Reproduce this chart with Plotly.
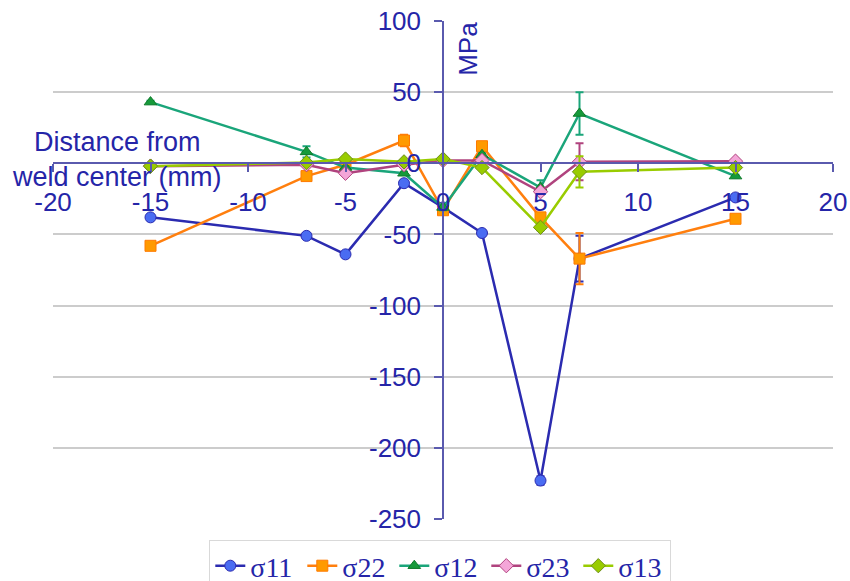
import plotly.graph_objects as go

x_mm = [-15, -7, -5, -2, 0, 2, 5, 7, 15]

s11 = [-38, -51, -64, -14, -31, -49, -223, -67, -24]
s22 = [-58, -9, -1, 16, -33, 12, -38, -67, -39]
s12 = [43, 8, -3, -7, -31, 6, -17, 35, -9]
s23 = [-2, -1, -7, -1, 2, 2, -20, 1, 1.5]
s13 = [-2, 0.5, 3, 1, 3, -3, -45, -6, -3]

e11 = [1, 2, 1, 2, 2, 1, 3, 16, 2]
e22 = [1, 2, 1, 4, 2, 2, 2, 18, 2]
e12 = [1, 4, 1, 1, 2, 1, 5, 15, 1]
e23 = [1, 1, 1, 1, 1, 1, 2, 13, 1]
e13 = [1, 1, 1, 1, 1, 1, 2, 11, 1]

x_ticks = [-20, -15, -10, -5, 0, 5, 10, 15, 20]
x_tick_text = ["-20", "-15", "-10", "-5", "0", "5", "10", "15", "20"]
y_ticks = [-250, -200, -150, -100, -50, 0, 50, 100]
y_tick_text = ["-250", "-200", "-150", "-100", "-50", "0", "50", "100"]

names = ["σ11", "σ22", "σ12", "σ23", "σ13"]
TXT = "#2525a8"
AX = "#5a5aae"

series = [
    (s11, e11, "#2b2bb0", "circle", "#4a6cf2", "#2b2bb0", 11),
    (s22, e22, "#ff7f0e", "square", "#ff9a00", "#ff7a00", 11),
    (s12, e12, "#1aa57a", "triangle-up", "#169a3a", "#0e7a2a", 11),
    (s23, e23, "#b0437e", "diamond", "#f4a6d8", "#b0437e", 11),
    (s13, e13, "#99cc00", "diamond", "#99cc00", "#6f8f1a", 11),
]

fig = go.Figure()
for name, (ys, es, lc, sym, mf, ml, ms) in zip(names, series):
    fig.add_trace(go.Scatter(
        x=x_mm, y=ys, name=name, mode="lines+markers",
        line=dict(color=lc, width=2.5),
        marker=dict(symbol=sym, size=ms, color=mf, line=dict(color=ml, width=1)),
        error_y=dict(type="data", array=es, visible=True, color=lc, thickness=2, width=4),
    ))

fig.update_layout(
    width=850, height=581,
    margin=dict(l=53, r=17, t=21, b=62, autoexpand=False),
    paper_bgcolor="white", plot_bgcolor="white",
    font=dict(family="Liberation Sans, Arial", color=TXT, size=26),
    showlegend=True,
    legend=dict(
        orientation="h", xref="container", yref="container",
        x=0.518, xanchor="center", y=(581 - 566) / 581, yanchor="middle",
        font=dict(family="Liberation Serif, Times New Roman", size=28, color=TXT),
        bordercolor="#d9d9d9", borderwidth=1, bgcolor="white",
        itemwidth=30, tracegroupgap=0, entrywidth=47, entrywidthmode="pixels",
    ),
    xaxis=dict(
        range=[-20, 20], tickvals=x_ticks, ticktext=x_tick_text,
        anchor="free", position=250 / 350, automargin=False,
        showgrid=False, zeroline=False, showline=True, linecolor=AX, linewidth=1.5,
        ticks="outside", ticklen=8, tickcolor=AX, tickwidth=1.5,
        tickfont=dict(size=26, color=TXT), ticklabelstandoff=8,
    ),
    yaxis=dict(
        range=[-250, 100], tickvals=y_ticks, ticktext=y_tick_text,
        anchor="free", position=0.5, automargin=False,
        showgrid=True, gridcolor="#cccccc", gridwidth=2,
        zeroline=True, zerolinecolor=AX, zerolinewidth=1.5,
        showline=True, linecolor=AX, linewidth=1.5,
        ticks="outside", ticklen=8, tickcolor=AX, tickwidth=1.5,
        tickfont=dict(size=26, color=TXT), ticklabelstandoff=8,
    ),
    annotations=[
        dict(text="MPa", xref="paper", yref="paper", x=0.532, y=0.944,
             textangle=-90, showarrow=False, font=dict(size=26, color=TXT),
             xanchor="center", yanchor="middle"),
        dict(text="Distance from<br>weld center (mm)", xref="paper", yref="paper",
             x=0.082, y=0.721, showarrow=False, align="center",
             font=dict(size=27, color=TXT), xanchor="center", yanchor="middle"),
    ],
)

fig.write_html("out.html")
